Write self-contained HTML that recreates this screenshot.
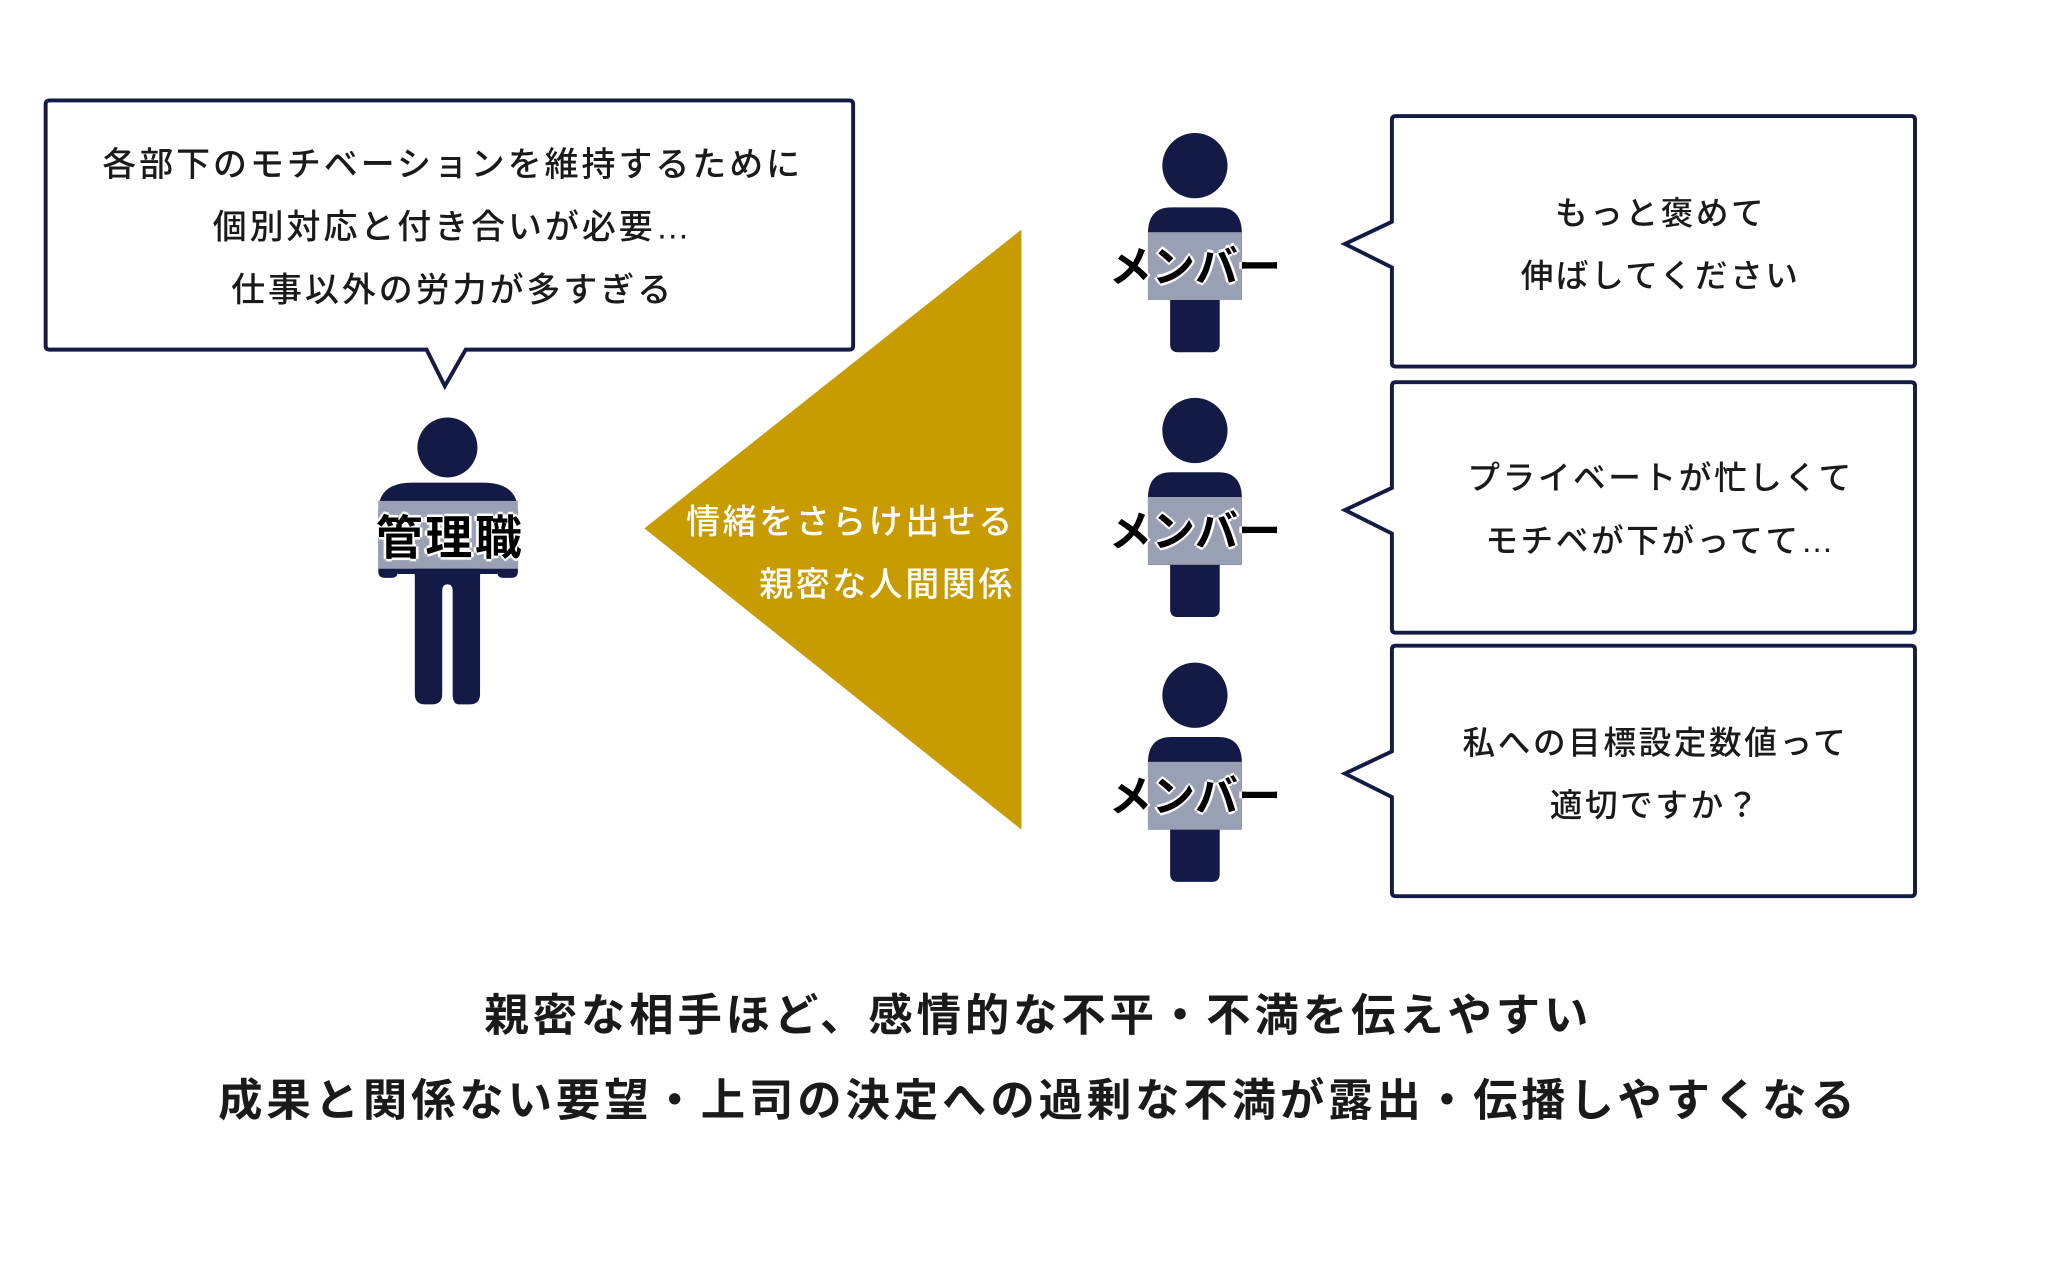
<!DOCTYPE html>
<html><head><meta charset="utf-8"><style>
html,body{margin:0;padding:0;background:#fff;width:2048px;height:1280px;overflow:hidden}
#s{position:absolute;left:0;top:0;width:1570px;height:981px;transform:scale(1.3045);transform-origin:0 0}
.t{position:absolute;font-family:"Liberation Sans","Noto Sans CJK JP",sans-serif;color:#1a1a1a;white-space:nowrap;font-weight:500}
.c{transform:translateX(-50%)}
</style></head><body><div id="s">
<svg width="1570" height="981" style="position:absolute;left:0;top:0">
<defs>
<g id="mem">
<circle cx="0" cy="0" r="25" fill="#131a45"/>
<path d="M-36 52 Q-36 32 -18 32 L18 32 Q36 32 36 52 L36 103 L-36 103 Z" fill="#131a45"/>
<rect x="-36" y="51" width="72" height="52" fill="#9aa0b4"/>
<path d="M-19 103 L19 103 L19 137 Q19 143 13 143 L-13 143 Q-19 143 -19 137 Z" fill="#131a45"/>
</g>
</defs>
<path d="M38 77 H651 Q654 77 654 80 V265 Q654 268 651 268 H357 L341 296 L327 268 H38 Q35 268 35 265 V80 Q35 77 38 77 Z" fill="#fff" stroke="#131a45" stroke-width="3"/>
<circle cx="343" cy="343" r="23" fill="#131a45"/>
<path d="M290 438 L290 392 Q290 370 316 370 L370 370 Q397 370 397 392 L397 438 Q397 443 392 443 L386 443 Q381 443 381 438 L381 440 L368 440 L368 532 Q368 540 360 540 L352 540 Q347 540 347 532 L347 453 Q347 448 343 448 Q339 448 339 453 L339 532 Q339 540 331 540 L326 540 Q318 540 318 532 L318 440 L305 440 L305 438 Q305 443 300 443 L295 443 Q290 443 290 438 Z" fill="#131a45"/>
<rect x="290" y="384" width="107" height="52" fill="#9aa0b4"/>
<rect x="318" y="436" width="50" height="6" fill="#131a45"/>
<polygon points="494,405 783,176 783,636" fill="#c89b00"/>
<use href="#mem" x="916" y="127"/>
<use href="#mem" x="916" y="330"/>
<use href="#mem" x="916" y="533"/>
<path d="M1070 89 H1465 Q1468 89 1468 92 V278 Q1468 281 1465 281 H1070 Q1067 281 1067 278 V205 L1031 187 L1067 170 V92 Q1067 89 1070 89 Z" fill="#fff" stroke="#131a45" stroke-width="3"/>
<path d="M1070 293 H1465 Q1468 293 1468 296 V482 Q1468 485 1465 485 H1070 Q1067 485 1067 482 V409 L1031 391 L1067 374 V296 Q1067 293 1070 293 Z" fill="#fff" stroke="#131a45" stroke-width="3"/>
<path d="M1070 495 H1465 Q1468 495 1468 498 V684 Q1468 687 1465 687 H1070 Q1067 687 1067 684 V611 L1031 593 L1067 576 V498 Q1067 495 1070 495 Z" fill="#fff" stroke="#131a45" stroke-width="3"/>
</svg>

<div class="t c" style="left:347px;top:102px;font-size:26px;letter-spacing:2.3px;line-height:48px;text-align:center">各部下のモチベーションを維持するために<br>個別対応と付き合いが必要…<br>仕事以外の労力が多すぎる</div>

<div class="t c" style="left:345px;top:384px;font-size:36px;font-weight:700;color:#000;letter-spacing:2px;text-shadow:0 0 3px #fff,0 0 3px #fff,2px 0 0 #fff,-2px 0 0 #fff,0 2px 0 #fff,0 -2px 0 #fff">管理職</div>

<div class="t" style="right:792px;top:376px;font-size:26px;color:#fff;letter-spacing:2px;line-height:48px;text-align:right">情緒をさらけ出せる<br>親密な人間関係</div>

<div class="t c" style="left:916px;top:178px;font-size:33px;font-weight:700;color:#000;text-shadow:0 0 3px #fff,2px 0 0 #fff,-2px 0 0 #fff,0 2px 0 #fff,0 -2px 0 #fff">メンバー</div>
<div class="t c" style="left:916px;top:381px;font-size:33px;font-weight:700;color:#000;text-shadow:0 0 3px #fff,2px 0 0 #fff,-2px 0 0 #fff,0 2px 0 #fff,0 -2px 0 #fff">メンバー</div>
<div class="t c" style="left:916px;top:584px;font-size:33px;font-weight:700;color:#000;text-shadow:0 0 3px #fff,2px 0 0 #fff,-2px 0 0 #fff,0 2px 0 #fff,0 -2px 0 #fff">メンバー</div>

<div class="t c" style="left:1273px;top:140px;font-size:25px;letter-spacing:2px;line-height:48px;text-align:center">もっと褒めて<br>伸ばしてください</div>
<div class="t c" style="left:1273px;top:343px;font-size:25px;letter-spacing:2px;line-height:48px;text-align:center">プライベートが忙しくて<br>モチベが下がってて…</div>
<div class="t c" style="left:1269px;top:546px;font-size:25px;letter-spacing:2px;line-height:48px;text-align:center">私への目標設定数値って<br>適切ですか？</div>

<div class="t c" style="left:796px;top:747px;font-size:34px;font-weight:700;letter-spacing:3px;line-height:65px;text-align:center">親密な相手ほど、感情的な不平・不満を伝えやすい<br>成果と関係ない要望・上司の決定への過剰な不満が露出・伝播しやすくなる</div>
</div></body></html>
